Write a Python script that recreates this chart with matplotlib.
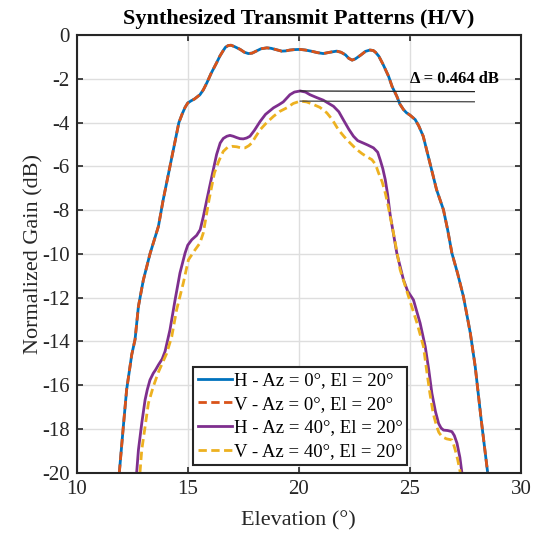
import matplotlib
matplotlib.use("Agg")
import matplotlib.pyplot as plt
import numpy as np

# elevation (deg) / normalized gain (dB)
el_az0 = [11.92, 12.1, 12.25, 12.48, 12.63, 12.78, 13.0, 13.3, 13.68, 13.9,
          14.2, 14.45, 14.6, 14.75, 14.88, 15.0, 15.15, 15.3, 15.55, 15.7,
          15.86, 16.05, 16.3, 16.45, 16.6, 16.7, 16.83, 16.95, 17.1, 17.36,
          17.55, 17.73, 17.9, 18.1, 18.3, 18.56, 18.75, 18.9, 19.23, 19.4,
          19.6, 19.8, 20.06, 20.3, 20.6, 20.85, 21.1, 21.4, 21.7, 21.9,
          22.1, 22.25, 22.4, 22.55, 22.8, 23.0, 23.2, 23.35, 23.45, 23.6,
          23.8, 24.04, 24.2, 24.41, 24.55, 24.71, 24.85, 25.0, 25.24, 25.4,
          25.6, 25.9, 26.2, 26.51, 26.7, 26.89, 27.15, 27.41, 27.72, 27.94,
          28.2, 28.5]
h_az0 = [-20, -17.9, -16.2, -14.6, -13.9, -12.4, -11.2, -10.0, -8.74, -7.5,
         -6.0, -4.75, -4.0, -3.6, -3.3, -3.1, -3.0, -2.92, -2.72, -2.5,
         -2.18, -1.75, -1.26, -0.95, -0.7, -0.55, -0.47, -0.46, -0.52, -0.65,
         -0.78, -0.84, -0.82, -0.72, -0.62, -0.58, -0.6, -0.64, -0.73, -0.72,
         -0.68, -0.66, -0.65, -0.68, -0.74, -0.8, -0.84, -0.78, -0.73, -0.78,
         -0.9, -1.06, -1.14, -1.08, -0.9, -0.74, -0.68, -0.7, -0.78, -0.96,
         -1.35, -1.88, -2.35, -2.79, -3.15, -3.4, -3.55, -3.65, -3.86, -4.15,
         -4.62, -5.84, -7.06, -7.98, -8.9, -9.96, -10.9, -11.95, -13.62, -15.15,
         -17.5, -20]
v_az0 = list(h_az0)  # V and H overlap for Az = 0

el_h40 = [12.7, 12.78, 12.93, 13.08, 13.18, 13.3, 13.45, 13.55, 13.68, 13.85,
          13.98, 14.2, 14.43, 14.65, 14.88, 15.0, 15.18, 15.4, 15.56, 15.7,
          15.86, 16.15, 16.3, 16.46, 16.6, 16.76, 16.9, 17.05, 17.2, 17.35,
          17.5, 17.65, 17.8, 18.0, 18.26, 18.5, 18.86, 19.1, 19.3, 19.6,
          19.8, 20.06, 20.3, 20.5, 20.8, 21.1, 21.56, 21.8, 22.0, 22.25,
          22.46, 22.65, 22.9, 23.1, 23.36, 23.55, 23.66, 23.78, 23.89, 24.0,
          24.11, 24.41, 24.71, 24.9, 25.16, 25.46, 25.69, 25.85, 25.99, 26.15,
          26.29, 26.4, 26.51, 26.7, 26.89, 27.0, 27.12, 27.25, 27.34]
h_az40 = [-20, -18.96, -17.74, -16.67, -16.2, -15.76, -15.45, -15.3, -15.07, -14.8,
          -14.45, -13.47, -12.1, -10.87, -9.96, -9.6, -9.35, -9.15, -8.89, -8.3,
          -7.52, -6.15, -5.45, -4.93, -4.72, -4.62, -4.58, -4.62, -4.68, -4.73,
          -4.74, -4.7, -4.62, -4.35, -3.94, -3.62, -3.32, -3.18, -3.05, -2.72,
          -2.6, -2.55, -2.6, -2.72, -2.85, -2.97, -3.25, -3.5, -3.86, -4.3,
          -4.62, -4.82, -4.93, -5.02, -5.15, -5.35, -5.69, -6.1, -6.6, -7.3,
          -8.2, -9.96, -11.18, -11.7, -12.1, -13.16, -14.23, -15.3, -16.37, -17.2,
          -17.74, -17.95, -18.05, -18.07, -18.12, -18.3, -18.65, -19.3, -20]

el_v40 = [12.85, 12.93, 13.08, 13.23, 13.45, 13.68, 14.05, 14.28, 14.5, 14.8,
          15.03, 15.33, 15.55, 15.7, 15.96, 16.2, 16.4, 16.6, 16.8, 17.0,
          17.2, 17.4, 17.58, 17.75, 17.88, 18.05, 18.26, 18.55, 18.86, 19.15,
          19.46, 19.75, 20.06, 20.35, 20.66, 20.95, 21.26, 21.5, 21.78, 22.05,
          22.31, 22.6, 22.84, 23.05, 23.29, 23.45, 23.59, 23.75, 23.89, 24.0,
          24.11, 24.26, 24.56, 24.94, 25.32, 25.61, 25.75, 25.9, 26.05, 26.21,
          26.3, 26.44, 26.65, 26.89, 26.95, 27.04, 27.15, 27.27]
v_az40 = [-20, -18.96, -17.9, -16.82, -16.06, -15.4, -14.55, -13.78, -12.55, -11.33,
          -10.27, -9.81, -9.5, -9.04, -7.52, -6.3, -5.75, -5.31, -5.12, -5.08,
          -5.1, -5.15, -5.15, -5.05, -4.93, -4.65, -4.32, -4.0, -3.71, -3.48,
          -3.32, -3.12, -3.014, -3.05, -3.17, -3.3, -3.55, -3.85, -4.32, -4.65,
          -4.93, -5.22, -5.41, -5.55, -5.69, -5.9, -6.3, -6.7, -7.21, -7.7,
          -8.28, -9.04, -10.72, -11.95, -13.16, -14.23, -15.3, -16.37, -17.3, -17.9,
          -18.15, -18.35, -18.45, -18.5, -18.65, -18.96, -19.4, -20]

labels = ["H - Az = 0°, El = 20°", "V - Az = 0°, El = 20°",
          "H - Az = 40°, El = 20°", "V - Az = 40°, El = 20°"]
delta_txt = "Δ = 0.464 dB"

plt.rcParams["font.family"] = ["Liberation Serif", "DejaVu Serif"]
plt.rcParams["axes.unicode_minus"] = False

fig = plt.figure(figsize=(5.36, 5.33), dpi=100)
ax = fig.add_axes([0.143, 0.113, 0.829, 0.821])

dash = (0, (3, 1.6))
kw = dict(lw=2, solid_joinstyle="round", dash_joinstyle="round")
ax.plot(el_az0, h_az0, color="#0072BD", label=labels[0], **kw)
ax.plot(el_az0, v_az0, color="#D95319", ls=dash, label=labels[1], **kw)
ax.plot(el_h40, h_az40, color="#7E2F8E", label=labels[2], **kw)
ax.plot(el_v40, v_az40, color="#EDB120", ls=dash, label=labels[3], **kw)

# peak difference markers
ih = int(np.argmax(h_az40))
iv = int(np.argmax(v_az40))
ax.plot([el_h40[ih], 27.9], [h_az40[ih], h_az40[ih] - 0.03], color="#222222", lw=0.9)
ax.plot([el_v40[iv], 27.9], [v_az40[iv], v_az40[iv] - 0.03], color="#444444", lw=0.9)
ax.text(25.0, -2.0, delta_txt, fontsize=12, fontweight="bold", ha="left", va="center")

ax.set_xlim(10, 30)
ax.set_ylim(-20, 0)
ax.set_xticks(np.arange(10, 31, 5))
ax.set_yticks(np.arange(-20, 1, 2))
ax.grid(True, color="#dedede", lw=1.0)
ax.set_axisbelow(True)
ax.tick_params(direction="in", top=True, right=True, length=4, width=1.2,
               labelsize=15, colors="#262626", pad=5)
for s in ax.spines.values():
    s.set_linewidth(1.5)
    s.set_color("#262626")

ax.set_xlabel("Elevation (°)", fontsize=16, color="#262626", labelpad=9)
ax.set_ylabel("Normalized Gain (dB)", fontsize=16, color="#262626", labelpad=-1)
ax.set_title("Synthesized Transmit Patterns (H/V)", fontsize=16, fontweight="bold", pad=8)

leg = ax.legend(loc="lower center", bbox_to_anchor=(0.503, 0.018), fontsize=13.5,
                handlelength=1.8, handletextpad=0.1, labelspacing=0.35,
                borderpad=0.25, borderaxespad=0, fancybox=False, framealpha=1)
leg.get_frame().set_edgecolor("#262626")
leg.get_frame().set_linewidth(1.5)

fig.savefig("out.png", dpi=100)
